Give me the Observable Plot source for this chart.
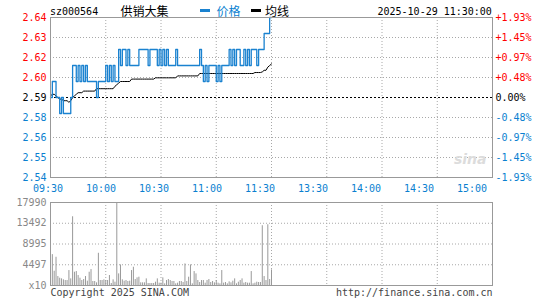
<!DOCTYPE html>
<html><head><meta charset="utf-8">
<script src="https://cdn.jsdelivr.net/npm/d3@7"></script>
<script src="https://cdn.jsdelivr.net/npm/@observablehq/plot@0.6"></script>
<style>
body{margin:0;background:#fff;}
#c{position:relative;width:545px;height:300px;overflow:hidden;background:#fff;}
#c svg{position:absolute;left:0;}
.h{position:absolute;white-space:nowrap;}
.mono{font-family:"DejaVu Sans Mono",monospace;font-size:10px;line-height:10px;}
.cjk{font-family:"Noto Sans CJK SC",sans-serif;font-size:12px;line-height:12px;}
.sw{position:absolute;width:10px;height:3px;}
</style></head><body><div id="c"></div>
<script>
const stockCode = "sz000564";
const stockName = "供销大集";
const legendNames = ["价格", "均线"];
const timestamp = "2025-10-29 11:30:00";
const prevClose = 2.59;
const priceTickValues = [2.64, 2.6275, 2.615, 2.6025, 2.59, 2.5775, 2.565, 2.5525, 2.54];
const priceTickLabels = ["2.64", "2.63", "2.62", "2.60", "2.59", "2.58", "2.56", "2.55", "2.54"];
const pctTickLabels = ["+1.93%", "+1.45%", "+0.97%", "+0.48%", "0.00%", "-0.48%", "-0.97%", "-1.45%", "-1.93%"];
const timeTickMinutes = [0, 30, 60, 90, 120, 150, 180, 210, 240];
const timeTickLabels = ["09:30", "10:00", "10:30", "11:00", "11:30", "13:30", "14:00", "14:30", "15:00"];
const volTickValues = [17990, 13492.5, 8995, 4497.5, 0];
const volTickLabels = ["17990", "13492", "8995", "4497", "x10"];
const copyrightText = "Copyright 2025 SINA.COM";
const urlText = "http://finance.sina.com.cn";

const prices = [
  2.59,2.60,2.60,2.59,2.59,2.58,2.59,2.58,2.58,2.58,
  2.58,2.59,2.61,2.61,2.60,2.61,2.60,2.61,2.60,2.61,
  2.60,2.60,2.60,2.60,2.60,2.59,2.60,2.60,2.60,2.60,
  2.61,2.60,2.61,2.60,2.61,2.60,2.60,2.62,2.61,2.62,
  2.62,2.61,2.62,2.61,2.61,2.61,2.61,2.61,2.62,2.62,
  2.62,2.62,2.62,2.61,2.62,2.62,2.62,2.62,2.61,2.62,
  2.61,2.62,2.61,2.62,2.61,2.61,2.61,2.61,2.62,2.61,
  2.61,2.61,2.61,2.61,2.61,2.61,2.61,2.61,2.61,2.61,
  2.61,2.62,2.61,2.60,2.61,2.60,2.61,2.61,2.61,2.61,
  2.60,2.61,2.60,2.61,2.61,2.61,2.61,2.62,2.61,2.62,
  2.61,2.62,2.62,2.61,2.61,2.62,2.61,2.62,2.61,2.62,
  2.62,2.62,2.61,2.62,2.62,2.62,2.63,2.63,2.63,2.64,
  2.64
];
const avgPrices = [
  2.591,2.592,2.592,2.591,2.590,2.589,2.589,2.588,2.588,2.588,
  2.587,2.588,2.590,2.591,2.592,2.593,2.593,2.593,2.594,2.594,
  2.594,2.594,2.594,2.594,2.594,2.5955,2.5955,2.5955,2.5955,2.5955,
  2.5955,2.5955,2.5955,2.5955,2.5955,2.597,2.598,2.599,2.600,2.600,
  2.600,2.600,2.600,2.600,2.6015,2.6015,2.6015,2.6015,2.6015,2.6015,
  2.6015,2.6015,2.6015,2.6015,2.6015,2.6015,2.6015,2.6023,2.6023,2.6023,
  2.6023,2.6023,2.6023,2.6023,2.6023,2.6023,2.6023,2.6023,2.6023,2.6035,
  2.6035,2.6035,2.6035,2.6035,2.6035,2.6035,2.6035,2.6035,2.6035,2.6035,
  2.6035,2.605,2.605,2.605,2.605,2.605,2.605,2.605,2.605,2.605,
  2.605,2.605,2.605,2.605,2.605,2.605,2.605,2.605,2.605,2.605,
  2.605,2.605,2.605,2.605,2.605,2.605,2.605,2.605,2.605,2.605,
  2.605,2.6056,2.6056,2.6056,2.6056,2.606,2.607,2.607,2.609,2.610,
  2.611
];
const volumes = [
  935,6692,3094,6117,1943,1583,1439,1223,1079,1079,
  3238,1439,14896,2878,3022,2159,1583,1079,1295,1943,
  935,2878,3454,864,864,576,6980,1079,1079,1223,
  1079,1079,2159,432,1223,720,17990,2519,4462,1223,
  935,1079,864,935,3238,3958,1295,1655,1799,576,
  576,576,1439,432,432,432,432,720,1439,504,
  504,1655,360,1079,1295,1079,864,864,360,504,
  864,864,648,4677,864,1799,4462,360,3022,2519,
  1079,648,1079,1079,504,1079,1295,648,864,576,
  1079,504,360,3238,504,648,360,792,576,935,
  1439,360,720,1079,1439,504,648,504,504,3022,
  360,504,720,648,648,12953,1943,1079,13169,1295,
  3382
];

const RED = "#ff0000", BLUE = "#0a7fd0", LINEBLUE = "#1a82d0", GRID = "#a8a8a8", BORDER = "#999";
const colorOf = v => Math.abs(v - prevClose) < 1e-9 ? "#000" : (v > prevClose ? RED : BLUE);
const baseStyle = {fontFamily: "DejaVu Sans Mono, monospace", fontSize: "10px", background: "transparent", overflow: "visible"};

const priceTicks = priceTickValues.map((v, k) => ({v, label: priceTickLabels[k], pct: pctTickLabels[k]}));
const priceSeries = prices.map((p, i) => ({i, p}));
const avgSeries = avgPrices.map((p, i) => ({i, p}));
const volSeries = volumes.map((v, i) => ({i, v}));
const timeTicks = timeTickMinutes.map((m, k) => ({m, label: timeTickLabels[k]}));
const volTicks = volTickValues.map((v, k) => ({v, label: volTickLabels[k]}));

const c = document.getElementById("c");

// price panel
const pricePlot = Plot.plot({
  width: 545, height: 182, marginTop: 17, marginBottom: 5, marginLeft: 50, marginRight: 53,
  x: {domain: [0, 240], axis: null},
  y: {domain: [2.54, 2.64], axis: null},
  style: baseStyle,
  marks: [
    Plot.ruleX(timeTickMinutes.slice(1, -1), {stroke: GRID, strokeDasharray: "1,2"}),
    Plot.ruleY(priceTickValues.slice(1, -1).filter(v => v !== prevClose), {stroke: GRID, strokeDasharray: "1,2"}),
    Plot.ruleY([prevClose], {stroke: "#000", strokeDasharray: "2,2"}),
    Plot.text(["sina"], {frameAnchor: "bottom-right", textAnchor: "end", lineAnchor: "middle", dx: -6, dy: -18,
      fill: "#dcdcdc", fontSize: 14, fontWeight: "bold", fontStyle: "italic", fontFamily: "DejaVu Sans, sans-serif"}),
    Plot.line(avgSeries, {x: "i", y: "p", stroke: "#000", strokeWidth: 1}),
    Plot.line(priceSeries, {x: "i", y: "p", stroke: LINEBLUE, strokeWidth: 1.3, curve: "step-after"}),
    Plot.frame({stroke: BORDER}),
    Plot.text(priceTicks, {y: "v", text: "label", fill: d => colorOf(d.v), frameAnchor: "left", textAnchor: "end", dx: -4}),
    Plot.text(priceTicks, {y: "v", text: "pct", fill: d => colorOf(d.v), frameAnchor: "right", textAnchor: "start", dx: 3})
  ]
});
pricePlot.style.top = "0px";
c.appendChild(pricePlot);

// time label strip
const timePlot = Plot.plot({
  width: 545, height: 16, marginTop: 0, marginBottom: 0, marginLeft: 47.5, marginRight: 73.5,
  x: {domain: [0, 240], axis: null},
  style: baseStyle,
  marks: [
    Plot.text(timeTicks, {x: "m", text: "label", fill: BLUE, frameAnchor: "middle"})
  ]
});
timePlot.style.top = "180px";
c.appendChild(timePlot);

// volume panel
const volPlot = Plot.plot({
  width: 545, height: 105, marginTop: 7, marginBottom: 15, marginLeft: 50, marginRight: 53,
  x: {domain: [0, 240], axis: null},
  y: {domain: [0, 17990], axis: null},
  style: baseStyle,
  marks: [
    Plot.ruleX(timeTickMinutes.slice(1, -1), {stroke: GRID, strokeDasharray: "1,2"}),
    Plot.ruleY(volTickValues.slice(1, -1), {stroke: GRID, strokeDasharray: "1,2"}),
    Plot.ruleX(volSeries, {x: "i", y1: 0, y2: "v", stroke: "#999", strokeWidth: 1}),
    Plot.frame({stroke: BORDER}),
    Plot.text(volTicks, {y: "v", text: "label", fill: "#888", frameAnchor: "left", textAnchor: "end", dx: -4}),
    Plot.text([copyrightText], {frameAnchor: "bottom-left", textAnchor: "start", lineAnchor: "middle", dy: 7, fill: "#444"}),
    Plot.text([urlText], {frameAnchor: "bottom-right", textAnchor: "end", lineAnchor: "middle", dy: 7, fill: "#444"})
  ]
});
volPlot.style.top = "195px";
c.appendChild(volPlot);

// header
function addSpan(text, cls, left, top, color) {
  const s = document.createElement("span");
  s.className = "h " + cls;
  s.textContent = text;
  s.style.left = left + "px";
  s.style.top = top + "px";
  s.style.color = color;
  c.appendChild(s);
}
function addSwatch(left, top, color) {
  const s = document.createElement("div");
  s.className = "sw";
  s.style.left = left + "px";
  s.style.top = top + "px";
  s.style.background = color;
  c.appendChild(s);
}
addSpan(stockCode, "mono", 50, 6.5, "#000");
addSpan(stockName, "cjk", 120.5, 5, "#000");
addSwatch(200, 8.5, LINEBLUE);
addSpan(legendNames[0], "cjk", 216.5, 5, BLUE);
addSwatch(250.5, 8.5, "#000");
addSpan(legendNames[1], "cjk", 265, 5, "#000");
addSpan(timestamp, "mono", 377.5, 6.5, "#000");
</script></body></html>
